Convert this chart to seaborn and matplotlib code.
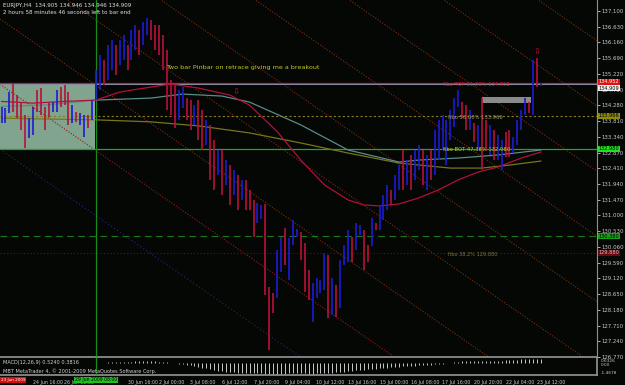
import numpy as np
import pandas as pd
import matplotlib
matplotlib.use("Agg")
import matplotlib.pyplot as plt
import seaborn as sns

# ---------------- data ----------------
highs = [134.23,134.20,134.68,134.95,134.59,134.38,134.00,133.91,134.23,134.74,134.80,134.23,134.35,134.38,134.74,134.83,
         134.89,134.68,134.29,134.09,134.06,134.00,134.00,134.44,
         135.34,135.79,135.64,136.09,136.23,136.09,136.23,136.38,136.09,136.53,136.68,136.53,136.77,136.89,136.83,136.68,
         136.68,136.38,135.94,135.04,134.89,134.74,134.83,134.50,134.44,134.29,134.44,134.14,133.85,133.70,133.25,132.95,
         132.95,132.65,132.50,132.35,132.20,132.06,132.06,131.75,
         131.46,131.37,131.30,131.34,128.86,128.68,129.97,130.35,130.62,130.32,130.86,130.59,130.50,130.17,129.37,128.98,
         129.13,129.07,129.88,129.82,129.13,128.92,129.67,130.11,130.56,130.35,130.77,130.71,130.56,130.11,130.92,130.77,
         131.31,131.61,131.91,131.76,132.20,132.50,132.95,132.65,132.80,132.95,133.10,132.95,132.80,132.95,133.55,133.85,
         134.00,133.85,134.14,134.50,134.74,134.38,134.29,134.14,133.76,133.70,134.50,133.85,133.70,133.55,133.40,133.25,
         133.49,133.55,133.34,133.85,134.14,134.50,134.38,135.64,135.70,134.95]
lows = [133.76,133.76,134.06,134.09,133.91,133.55,133.01,133.31,133.40,134.09,134.00,133.55,133.94,134.09,134.09,134.23,
        134.29,133.70,133.76,133.79,133.70,133.34,133.61,133.85,
        134.44,134.74,134.89,135.04,135.34,135.19,135.49,135.64,135.34,135.64,135.94,135.79,136.09,136.38,136.23,135.94,
        135.79,135.34,134.14,134.00,133.61,133.85,134.20,133.85,133.55,133.70,133.25,132.95,133.10,132.06,131.76,132.20,
        131.61,131.91,131.31,131.61,131.16,131.46,131.16,131.16,
        130.35,130.77,130.90,128.62,126.98,128.08,128.53,129.31,129.52,129.07,130.11,130.35,129.67,128.71,128.47,127.82,
        128.53,128.68,128.77,127.94,128.03,127.97,128.23,129.52,129.61,129.61,129.97,130.41,129.37,129.61,130.09,130.56,
        130.56,130.86,131.16,131.31,131.46,131.76,131.76,131.91,131.76,132.06,132.35,131.91,131.76,132.06,132.20,132.65,
        132.95,132.50,133.25,133.64,134.23,133.91,133.55,133.55,133.19,132.95,132.35,132.95,132.80,132.65,132.65,132.35,
        132.74,132.74,132.86,133.10,133.55,134.00,134.06,134.00,134.83,134.85]
bull = [1,1,1,0,0,0,0,1,1,0,0,0,0,1,1,0,0,0,1,0,1,1,0,1,
        1,1,0,1,1,0,1,1,0,1,1,0,1,1,0,0,0,0,0,0,0,1,1,0,0,1,0,0,1,0,0,1,0,1,0,1,0,1,0,0,
        0,1,1,0,0,0,1,1,0,1,1,1,0,0,0,1,1,1,1,0,1,0,1,1,1,0,1,1,0,0,1,0,
        1,1,1,0,1,1,0,1,0,1,1,0,1,0,1,1,1,1,1,1,1,0,0,1,0,1,0,0,1,0,1,1,0,0,1,1,1,1,0,1,0,1]

macd = [0.03,0.02,0.02,0.04,0.03,0.02,0.0,-0.02,-0.02,0.0,0.02,0.01,0.0,0.01,0.02,0.03,0.04,0.03,0.02,0.01,0.0,-0.01,0.0,0.01,
        0.03,0.05,0.07,0.09,0.11,0.13,0.15,0.17,0.18,0.2,0.21,0.22,0.24,0.25,0.24,0.22,0.2,
        0.16,0.12,0.06,0.0,-0.06,-0.12,-0.2,-0.28,-0.36,-0.45,-0.55,-0.65,-0.75,-0.84,-0.92,-0.99,-1.05,-1.1,-1.14,-1.17,-1.19,-1.2,
        -1.21,-1.22,-1.22,-1.25,-1.32,-1.38,-1.4,-1.38,-1.35,-1.32,-1.28,-1.26,-1.24,-1.25,-1.27,-1.3,-1.29,-1.27,-1.24,-1.22,
        -1.2,-1.18,-1.15,-1.1,-1.04,-0.98,-0.93,-0.88,-0.84,-0.8,-0.76,-0.72,-0.68,
        -0.64,-0.6,-0.56,-0.52,-0.48,-0.44,-0.41,-0.38,-0.35,-0.32,-0.29,-0.26,-0.23,-0.2,-0.16,-0.12,-0.06,0.0,0.06,0.12,
        0.18,0.22,0.25,0.27,0.28,0.29,0.29,0.3,0.3,0.3,0.31,0.32,0.34,0.37,0.4,0.43,0.46,0.48,0.5,0.51,0.52,0.524]

price_ticks = [137.100,136.630,136.160,135.690,135.220,134.750,134.280,133.810,133.340,132.870,
               132.410,131.940,131.470,131.000,130.530,130.060,129.590,129.120,128.650,128.180,
               127.710,127.240,126.770]
time_tick_idx = [8,16,32,40,48,56,64,72,80,88,96,104,112,120,128,136]
time_tick_lbl = ["24 Jun 16:00","26 Jun 00:00","30 Jun 16:00","2 Jul 00:00","3 Jul 08:00","6 Jul 12:00",
                 "7 Jul 20:00","9 Jul 04:00","10 Jul 12:00","13 Jul 16:00","15 Jul 00:00","16 Jul 08:00",
                 "17 Jul 16:00","20 Jul 20:00","22 Jul 04:00","23 Jul 12:00"]

red_idx  = [0, 8, 16, 24, 30, 38, 43, 50, 58, 63, 70, 76, 82, 88, 92, 96, 101, 106, 111, 116, 121, 126, 132, 137]
red_ma   = [134.40,134.35,134.40,134.44,134.68,134.83,134.92,134.80,134.59,134.29,133.50,132.65,131.91,131.46,131.31,
            131.28,131.34,131.52,131.76,132.06,132.29,132.44,132.71,132.89]
teal_idx = [0, 12, 24, 38, 46, 56, 63, 76, 88, 101, 106, 116, 126, 137]
teal_ma  = [134.25,134.30,134.44,134.50,134.62,134.56,134.38,133.70,132.95,132.59,132.65,132.71,132.80,132.95]
olive_idx = [0, 24, 38, 50, 63, 76, 88, 101, 114, 122, 129, 137]
olive_ma  = [133.90,133.85,133.79,133.67,133.46,133.16,132.86,132.56,132.41,132.41,132.50,132.62]

chan_start = [134.88, 136.83, 138.78, 140.72, 142.67, 144.61, 146.56, 148.51]
chan_slope = -0.0813
blue_chan_start = 132.94

h_top, h_bid, h_mid, h_bot, h_green2, h_red2 = 134.952, 134.909, 133.966, 132.980, 130.380, 129.880
box_idx = (-0.5, 24)
pinbar_box = (122, 134.5, 134.35, 134.53)

# ---------------- layout ----------------
W, H = 625, 385
BG = "#050705"
sns.set_theme(style="dark", rc={"axes.facecolor": BG, "figure.facecolor": BG})
plt.rcParams["font.family"] = ["DejaVu Sans"]

fig = plt.figure(figsize=(W/100, H/100), dpi=100, facecolor=BG)
def rect(x0, y0, x1, y1):
    return [x0/W, 1 - y1/H, (x1-x0)/W, (y1-y0)/H]

def px2i(px):
    return 8 + (px - 33) / 3.9375
def py2p(py):
    return 137.1 - (py - 11) / 33.5

ax = fig.add_axes(rect(0, 0, 597, 357))
axm = fig.add_axes(rect(0, 358, 597, 375), sharex=ax)
for a in (ax, axm):
    a.set_facecolor(BG)
    a.grid(False)
    for s in a.spines.values():
        s.set_visible(False)
ax.set_xlim(px2i(0), px2i(597))
ymin, ymax = py2p(357), py2p(0)
ax.set_ylim(ymin, ymax)

df = pd.DataFrame({"i": np.arange(len(highs)), "high": highs, "low": lows, "bull": bull})
up = df["bull"] == 1

# shaded box
ax.axvspan(box_idx[0], box_idx[1] - 0.3, ymin=(h_bot - ymin) / (ymax - ymin),
           ymax=(h_top - ymin) / (ymax - ymin), color="#80a48e", zorder=1, lw=0)

# channel lines
xs = np.array([px2i(0), px2i(597)])
for k, c in enumerate(chan_start):
    col = "#9a1818" if k == 0 else "#7c2c10"
    ax.plot(xs, c + chan_slope * xs, color=col, lw=0.8, ls=(0, (1, 1.5)), zorder=2)
ax.plot(xs, blue_chan_start + chan_slope * xs, color="#24248c", lw=0.8, ls=(0, (1, 2.2)), zorder=2)

# horizontal / vertical lines
ax.axhline(h_top, color="#c8184a", lw=0.9, zorder=3)
ax.axhline(h_bid, color="#8c8ca0", lw=0.7, zorder=3)
ax.axhline(h_mid, color="#8a7a20", lw=0.8, ls=(0, (2, 2)), zorder=3)
ax.axhline(h_bot, color="#20a820", lw=0.9, zorder=3)
ax.axhline(h_green2, color="#1a7a1a", lw=0.8, ls=(0, (6, 4)), zorder=3)
ax.axhline(h_red2, color="#6a1010", lw=0.8, ls=(0, (1, 2)), zorder=3)
ax.axvline(24, color="#1a8a1a", lw=0.9, zorder=3)
axm.axvline(24, color="#1a8a1a", lw=0.9, zorder=3)

# pinbar rectangle
ax.fill_between([pinbar_box[0], pinbar_box[1]], pinbar_box[2], pinbar_box[3], color="#8a8a8a", zorder=4, lw=0)

# moving averages
sns.lineplot(x=olive_idx, y=olive_ma, ax=ax, color="#76761c", lw=0.9, zorder=5)
sns.lineplot(x=teal_idx, y=teal_ma, ax=ax, color="#5a8c88", lw=0.9, zorder=5)
sns.lineplot(x=red_idx, y=red_ma, ax=ax, color="#b0103a", lw=0.9, zorder=5)
ax.set_xlabel("")
ax.set_ylabel("")

# bars
ax.vlines(df.loc[up, "i"], df.loc[up, "low"], df.loc[up, "high"], color="#1c1cd4", lw=1.2, zorder=6)
ax.vlines(df.loc[~up, "i"], df.loc[~up, "low"], df.loc[~up, "high"], color="#b8103c", lw=1.2, zorder=6)

# texts
ax.text(px2i(166), py2p(68), "Two bar Pinbar on retrace giving me a breakout", color="#c8c820", fontsize=4.6, va="center", ha="left", zorder=7)
ax.text(px2i(443), py2p(85), "fibo TOP 61.80% 134.952", color="#e01838", fontsize=3.8, va="center", ha="left", zorder=7)
ax.text(px2i(448), py2p(118), "fibo 50.00% 133.966", color="#9a9a70", fontsize=3.8, va="center", ha="left", zorder=7)
ax.text(px2i(443), py2p(150), "fibo BOT 47.38% 132.980", color="#b0d020", fontsize=3.8, va="center", ha="left", zorder=7)
ax.text(px2i(448), py2p(255), "fibo 38.2% 129.880", color="#7a7a3a", fontsize=3.6, va="center", ha="left", zorder=7)
ax.text(px2i(236), py2p(92), "\u21e9", color="#c01030", fontsize=6, va="center", ha="center", zorder=7)
ax.text(px2i(537), py2p(52), "\u21e9", color="#c01030", fontsize=6, va="center", ha="center", zorder=7)
fig.text(3/W, 1-5/H, "EURJPY,H4  134.905 134.946 134.946 134.909", color="#e0e0e0", fontsize=4.0, va="center", ha="left")
fig.text(3/W, 1-13/H, "2 hours 58 minutes 46 seconds left to bar end", color="#e0e0e0", fontsize=4.0, va="center", ha="left")

# price axis
ax.yaxis.tick_right()
ax.set_yticks(price_ticks)
ax.set_yticklabels([f"{p:.3f}" for p in price_ticks])
ax.tick_params(axis="y", colors="#c8c8c8", labelsize=3.9, length=2, pad=1.5, width=0.6)
ax.tick_params(axis="x", bottom=False, labelbottom=False)
ax.spines["right"].set_visible(True)
ax.spines["right"].set_color("#909090")
ax.spines["right"].set_linewidth(0.8)
ax.spines["bottom"].set_visible(True)
ax.spines["bottom"].set_color("#909090")

def tag(y, txt, fc, tc="#000000"):
    ax.text(1.003, y, txt, transform=ax.get_yaxis_transform(), fontsize=3.6, color=tc, va="center", ha="left",
            bbox=dict(boxstyle="square,pad=0.1", fc=fc, ec="none"), zorder=8, clip_on=False)
tag(h_top + 0.03, f"{h_top:.3f}", "#e01010", "#ffffff")
tag(h_bid - 0.11, f"{h_bid:.3f}", "#f0f0f0", "#000000")
tag(h_mid, f"{h_mid:.3f}", "#8a8a10", "#000000")
tag(h_bot, f"{h_bot:.3f}", "#20e020", "#000000")
tag(h_green2, f"{h_green2:.3f}", "#18a018", "#000000")
tag(h_red2, f"{h_red2:.3f}", "#6a0a10", "#c0c0c0")

# MACD panel
axm.set_ylim(-1.4678, 0.6326)
axm.vlines(df["i"], 0, macd, color="#c8c8c8", lw=0.7)
axm.spines["bottom"].set_visible(True)
axm.spines["bottom"].set_color("#909090")
axm.spines["right"].set_visible(True)
axm.spines["right"].set_color("#909090")
axm.tick_params(axis="y", left=False, right=False, labelleft=False, labelright=False)
for yy, t in [(0.80, "0.6326"), (0.58, "0.00"), (0.12, "-1.4678")]:
    axm.text(1.006, yy, t, transform=axm.transAxes, color="#c8c8c8", fontsize=3.1, va="center", ha="left", clip_on=False)
axm.set_xticks(time_tick_idx)
axm.set_xticklabels(time_tick_lbl)
axm.tick_params(axis="x", colors="#c8c8c8", labelsize=3.4, length=2, pad=1.5, width=0.6)
for lab in axm.get_xticklabels():
    lab.set_ha("left")
axm.text(3/597, 0.75, "MACD(12,26,9) 0.5240 0.3816", transform=axm.transAxes, color="#d0d0d0", fontsize=3.6, va="center")
axm.text(3/597, 0.22, "MBT MetaTrader 4, \u00a9 2001-2009 MetaQuotes Software Corp.", transform=axm.transAxes, color="#d0d0d0", fontsize=3.6, va="center")
fig.text(1/W, 1-380/H, "23 Jun 2009", color="#ffffff", fontsize=3.0, va="center", ha="left",
         bbox=dict(boxstyle="square,pad=0.15", fc="#d01010", ec="none"))
fig.text(96/W, 1-380/H, "29 Jun 2009 08:00", color="#000000", fontsize=3.3, va="center", ha="center",
         bbox=dict(boxstyle="square,pad=0.15", fc="#20c020", ec="none"))

fig.savefig("out.png", dpi=100, facecolor=BG)
